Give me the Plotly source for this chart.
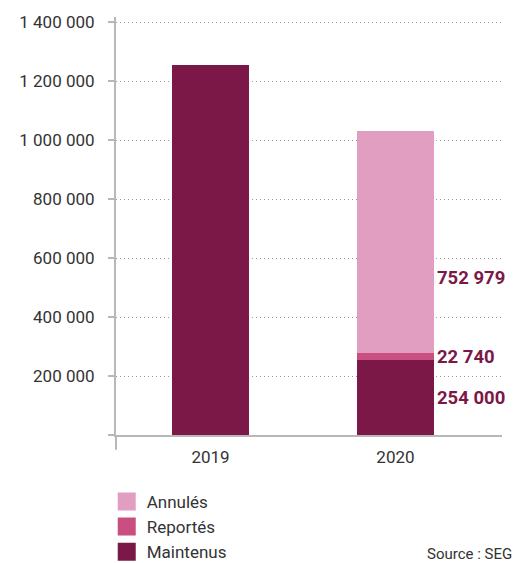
import plotly.graph_objects as go

years = ['2019', '2020']
series = ['Maintenus', 'Reportés', 'Annulés']
maintenus = [1255000, 254000]
reportes = [None, 22740]
annules = [None, 752979]
colors = ['#7b1848', '#c84f80', '#e29ec1']
y_ticks = [0, 200000, 400000, 600000, 800000, 1000000, 1200000, 1400000]


def fmt(v):
    return '{:,}'.format(v).replace(',', ' ')


fig = go.Figure()
values = [maintenus, reportes, annules]
for name, vals, col in zip(series, values, colors):
    fig.add_trace(go.Bar(x=years, y=vals, name=name, marker=dict(color=col, line=dict(width=0)),
                         width=0.416, showlegend=False))
    # legend-only proxy with bigger square
    fig.add_trace(go.Scatter(x=[None], y=[None], mode='markers', name=name,
                             marker=dict(symbol='square', size=16, color=col,
                                         line=dict(color=col, width=2))))

# value labels on the 2020 stack
annotations = []
base = 0
for name, vals in zip(series, values):
    v = vals[1]
    ypos = base + v / 2 if name != 'Annulés' else base + v * 0.34
    annotations.append(dict(x=1.208, y=ypos, xref='x', yref='y', xanchor='left', yanchor='middle',
                            xshift=1, text='<b>' + fmt(v) + '</b>', showarrow=False,
                            font=dict(family='Roboto', size=18.5, color='#7b1848')))
    base += v

annotations.append(dict(x=1, y=0, xref='paper', yref='paper', xanchor='right', yanchor='top',
                        yshift=-108, xshift=12, text='Source : SEG', showarrow=False,
                        font=dict(family='Roboto', size=15, color='#333333')))

fig.update_layout(
    width=515, height=563,
    margin=dict(l=116, r=13, t=17, b=128, autoexpand=False),
    plot_bgcolor='white', paper_bgcolor='white',
    barmode='stack',
    font=dict(family='Roboto', size=16, color='#333333'),
    xaxis=dict(range=[-0.511, 1.576], showline=True, linecolor='#b8b8b8', linewidth=2,
               showgrid=False, ticks='', tickfont=dict(size=17), ticklabelstandoff=6),
    yaxis=dict(range=[0, 1417000], tickvals=y_ticks,
               ticktext=['' if t == 0 else fmt(t) for t in y_ticks],
               showline=True, linecolor='#b8b8b8', linewidth=2,
               ticks='outside', ticklen=6, tickwidth=2, tickcolor='#b8b8b8',
               ticklabelstandoff=10,
               showgrid=True, gridcolor='#999999', gridwidth=1, griddash='1px,3px',
               zeroline=False, tickfont=dict(size=17)),
    legend=dict(x=-0.024, y=-0.117, xanchor='left', yanchor='top', traceorder='reversed',
                font=dict(size=17, color='#333333'), tracegroupgap=0, itemwidth=30),
    annotations=annotations,
    shapes=[dict(type='line', xref='paper', yref='paper', x0=0, x1=0, y0=0, y1=-0.035,
                 line=dict(color='#b8b8b8', width=2))],
)

fig.write_html('out.html', config={'displayModeBar': False},
               post_script="document.body.style.margin='0';")
